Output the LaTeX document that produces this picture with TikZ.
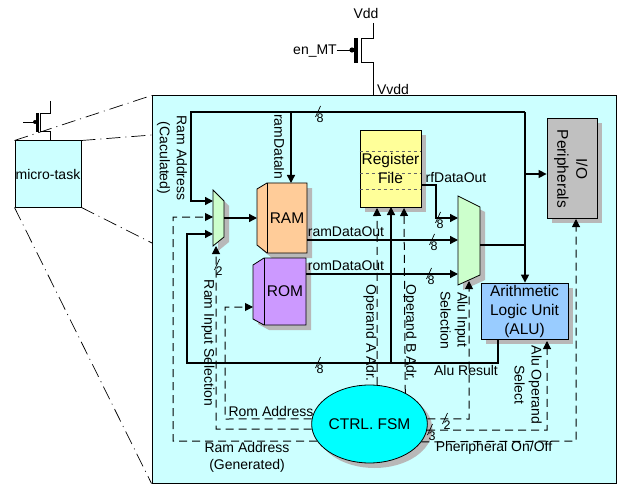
\documentclass[tikz,border=0pt]{standalone}
\usepackage{fontspec}
\setmainfont{Liberation Sans}
\usetikzlibrary{arrows.meta,positioning,calc,shapes.geometric,shadows}
\definecolor{cpanel}{RGB}{204,255,255}
\definecolor{cram}{RGB}{255,204,153}
\definecolor{crom}{RGB}{204,153,255}
\definecolor{creg}{RGB}{255,255,153}
\definecolor{cmux}{RGB}{204,255,204}
\definecolor{calu}{RGB}{153,204,255}
\definecolor{cio}{RGB}{192,192,192}
\definecolor{cfsm}{RGB}{0,255,255}
\definecolor{cshd}{RGB}{184,184,184}
\tikzset{
  sdw/.style={drop shadow={shadow xshift=5pt, shadow yshift=-5pt, fill=cshd, opacity=1}},
  blk/.style={draw, line width=0.8pt, inner sep=0pt, align=center, font=\fontsize{15.5}{19}\selectfont, sdw},
  poly/.style={draw, line width=0.8pt, sdw},
  btxt/.style={font=\fontsize{15.5}{19}\selectfont, inner sep=0pt, align=center},
  bus/.style={-{Triangle[length=8pt,width=8pt]}, line width=1.4pt},
  wire/.style={line width=1.4pt},
  ctl/.style={-{Triangle[length=8pt,width=8pt]}, line width=1pt, dash pattern=on 8pt off 5pt},
  ctlw/.style={line width=1pt, dash pattern=on 8pt off 5pt},
  zoomln/.style={line width=0.7pt, dash pattern=on 14pt off 5pt on 1pt off 5pt},
  fet/.style={line width=0.9pt},
  lab/.style={font=\fontsize{14}{17}\selectfont, inner sep=0pt, align=center},
  vlab/.style={lab, rotate=-90},
  wlab/.style={font=\fontsize{12.5}{14}\selectfont, inner sep=0pt},
}
\newcommand{\buswd}[3]{%
  \draw[line width=0.7pt] (#1+2.5,#2-6) -- (#1-2.5,#2+5);
  \node[wlab] at (#1+2,#2+6) {#3};}
\begin{document}
\begin{tikzpicture}[x=1pt,y=-1pt]
  \useasboundingbox (0,0) rectangle (624,484);
  % enlarged view and its outline
  \node[draw, line width=1pt, fill=cpanel, minimum width=464pt, minimum height=387pt, inner sep=0pt] (panel) at (384,289.5) {};
  \node[draw, line width=1pt, fill=cpanel, minimum width=66pt, minimum height=66pt, inner sep=0pt, font=\fontsize{14}{17}\selectfont] (task) at (48,174) {micro-task};
  \coordinate (pa) at (152,135);
  \coordinate (pb) at (152,243);
  \draw[zoomln] (task.north west) -- (panel.north west);
  \draw[zoomln] (task.north east) -- (pa);
  \draw[zoomln] (task.south east) -- (pb);
  \draw[zoomln] (task.south west) -- (panel.south west);
  % small sleep transistor
  \coordinate (sd) at (50,101);
  \coordinate (ss) at (50,141);
  \coordinate (sg) at (23,122);
  \draw[fet] (sd) -- (50,113) -- (40,113) -- (40,131) -- (50,131) -- (ss);
  \draw[fet] (sg) -- (35,122);
  \fill (35,122) circle (2pt);
  \draw[line width=3pt] (37.5,113) -- (37.5,132);
  % sleep transistor
  \node[lab] (vdd) at (366,13) {Vdd};
  \node[lab] (enmt) at (315,51) {en\_MT};
  \node[lab] (vvdd) at (393,89) {Vvdd};
  \draw[fet] (373,23) -- (373,38) -- (361,38) -- (361,62) -- (373,62) -- (373,96);
  \draw[fet] (enmt.east |- 0,50) -- (350,50);
  \fill (352,50) circle (2.6pt);
  \draw[line width=4pt] (355.5,38) -- (355.5,63);
  % blocks
  \path[poly, fill=cram] (257,189) -- (267,183) -- (307,183) -- (307,253) -- (267,253) -- (257,245) -- cycle;
  \draw[line width=0.8pt] (267,183) -- (267,253);
  \node[btxt] (ramtxt) at (287,218) {RAM};
  \coordinate (ramtop) at (291,183);
  \path[poly, fill=crom] (253,265) -- (264,258) -- (306,258) -- (306,325) -- (264,325) -- (253,319) -- cycle;
  \draw[line width=0.8pt] (264,258) -- (264,325);
  \node[btxt] (romtxt) at (285,291.5) {ROM};
  \coordinate (rompt) at (253,307);
  \node[blk, fill=creg, minimum width=61pt, minimum height=77pt] (reg) at (390.5,168.5) {};
  \draw[dashed, gray!80!black, line width=0.8pt] (reg.west |- 0,151) -- (reg.east |- 0,151);
  \draw[dashed, gray!80!black, line width=0.8pt] (reg.west |- 0,173) -- (reg.east |- 0,173);
  \draw[dashed, gray!80!black, line width=0.8pt] (reg.west |- 0,189) -- (reg.east |- 0,189);
  \node[btxt] (regtxt) at (390.5,168) {Register\\File};
  \node[blk, fill=cio, minimum width=50pt, minimum height=100pt] (io) at (572,168) {};
  \node[blk, fill=calu, minimum width=87pt, minimum height=56pt] (alu) at (524.5,311) {Arithmetic\\Logic Unit\\(ALU)};
  \path[poly, fill=cmux] (213,190) -- (224,201) -- (224,237) -- (213,246) -- cycle;
  \path[poly, fill=cmux] (458,196) -- (480,207) -- (480,275) -- (458,285) -- cycle;
  \node[vlab, font=\fontsize{15.5}{19}\selectfont] (iotxt) at (571,169) {I/O\\Peripherals};
  % data paths
  \coordinate (muxa) at (213,201);
  \coordinate (muxb) at (213,217);
  \coordinate (muxc) at (213,234);
  \coordinate (muxo) at (224,218);
  \coordinate (topr) at (525,112);
  \draw[bus] (topr) -- (191,112) -- (191,201) -- (muxa);
  \draw[bus] (ramtop |- topr) -- (ramtop);
  \draw[bus] (topr) -- (alu.north -| topr);
  \draw[bus] (525,174) -- (io.west |- 0,174);
  \draw[wire] (480,245) -- (525,245);
  \draw[bus] (muxo) -- (257,218);
  \draw[bus] (reg.east |- 0,185) -- (436,185) -- (436,218) -- (458,218);
  \draw[bus] (307,240) -- (458,240);
  \draw[bus] (306,274) -- (458,274);
  \draw[wire] (498,339) -- (498,363) -- (187,363) -- (187,234) -- (204,234);
  \draw[bus] (187,234) -- (muxc);
  \draw[bus] (391,363) -- (391,207);
  % control lines
  \node[draw, ellipse, line width=0.8pt, fill=cfsm, minimum width=111pt, minimum height=78pt, inner sep=0pt, sdw, font=\fontsize{15.5}{19}\selectfont] (fsm) at (369.5,424) {CTRL. FSM};
  \draw[ctl] (fsm.198.8) -- (173,441) -- (173,217) -- (muxb);
  \draw[ctl] (fsm.185) -- (216,429) -- (216,246);
  \draw[ctl] (fsm.175) -- (225,419) -- (225,307) -- (rompt);
  \draw[ctl] (fsm.79) -- (377,208);
  \draw[ctl] (fsm.41.5) -- (404,208);
  \draw[ctl] (fsm.5) -- (469,419) -- (469,281);
  \draw[ctl] (fsm.354) -- (547,430) -- (547,341);
  \draw[ctl] (fsm.341.2) -- (576,441) -- (576,219);
  % width marks
  \buswd{318}{112}{8}
  \buswd{217}{265}{2}
  \buswd{438}{218}{8}
  \buswd{432}{240}{8}
  \buswd{429}{274}{8}
  \buswd{318}{363}{8}
  \buswd{445}{419}{2}
  \buswd{430}{430}{3}
  % signal names
  \node[vlab] (rama) at (172,158) {Ram Address\\(Caculated)};
  \node[vlab] (ramin) at (279,147) {ramDataIn};
  \node[vlab] (ramsel) at (208,343) {Ram Input Selection};
  \node[lab] (romad) at (271,411) {Rom Address};
  \node[lab, font=\fontsize{14}{17.5}\selectfont] (ramg) at (247,457.5) {Ram Address\\(Generated)};
  \node[lab] (ramo) at (346,232) {ramDataOut};
  \node[lab] (romo) at (346,266) {romDataOut};
  \node[lab] (rfo) at (456,178) {rfDataOut};
  \node[vlab] (opa) at (370,333) {Operand A Adr.};
  \node[vlab] (opb) at (410,333) {Operand B Adr.};
  \node[vlab] (alusel) at (454,320) {Alu Input\\Selection};
  \node[lab] (alur) at (466,370) {Alu Result};
  \node[vlab] (aluop) at (528,385) {Alu Operand\\Select};
  \node[lab] (perio) at (494,448) {Pheripheral On/Off};
\end{tikzpicture}
\end{document}
